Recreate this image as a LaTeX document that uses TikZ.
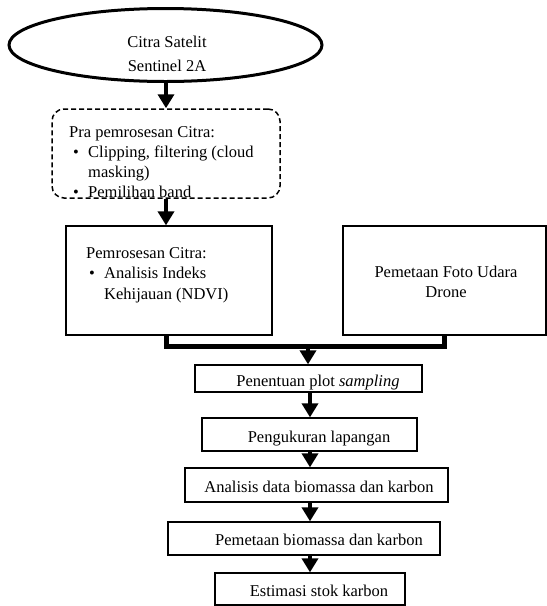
\documentclass[tikz,border=0pt]{standalone}
\usepackage{fontspec}
\setmainfont{Liberation Serif}
\usetikzlibrary{shapes.geometric,arrows.meta}
\begin{document}
\begin{tikzpicture}[x=1pt,y=-1pt,
  txt/.style={font=\fontsize{16.5}{20.5}\selectfont, inner sep=0pt},
  box/.style={draw, line width=1.3pt, inner sep=0pt},
  flow/.style={line width=4.5pt, -{Triangle[width=16pt,length=14pt]}},
  joint/.style={line width=5pt}]
\useasboundingbox[fill=white] (0,0) rectangle (547,606);
% top ellipse
\node[draw, ellipse, line width=3pt, minimum width=313pt, minimum height=73pt,
      inner sep=0pt] (sat) at (165.5,45) {};
\node[txt, font=\fontsize{16.5}{24}\selectfont, anchor=base, align=center] (sattxt) at (167,71)
      {Citra Satelit\\Sentinel 2A};
% dashed pre-processing box
\node[draw, dashed, dash pattern=on 5pt off 3pt, rounded corners=12pt, line width=1.5pt,
      minimum width=228pt, minimum height=89pt, inner sep=0pt] (pra) at (166,153.5) {};
\node[txt, font=\fontsize{16.5}{20}\selectfont, anchor=base west, align=left] (pratxt) at (69,197)
  {Pra pemrosesan Citra:\\
   \hspace*{4pt}\makebox[15pt][l]{•}Clipping, filtering (cloud\\
   \hspace*{19pt}masking)\\
   \hspace*{4pt}\makebox[15pt][l]{•}Pemilihan band};
% processing boxes
\node[box, minimum width=206pt, minimum height=109pt] (proc) at (169,280.5) {};
\node[txt, anchor=base west, align=left] (proctxt) at (86,299)
  {Pemrosesan Citra:\\
   \hspace*{3pt}\makebox[15pt][l]{•}Analisis Indeks\\
   \hspace*{18pt}Kehijauan (NDVI)};
\node[box, minimum width=203pt, minimum height=109pt] (drone) at (444.5,280.5) {};
\node[txt, font=\fontsize{16.5}{20}\selectfont, anchor=base, align=center] (dronetxt) at (446,297)
  {Pemetaan Foto Udara\\Drone};
% bottom chain
\node[box, minimum width=227pt, minimum height=27pt] (pen) at (308.5,378.5) {};
\node[box, minimum width=215pt, minimum height=33pt] (peng) at (309.5,434.5) {};
\node[box, minimum width=263pt, minimum height=34pt] (ana) at (316.5,485) {};
\node[box, minimum width=272pt, minimum height=33pt] (pem) at (304,538.5) {};
\node[box, minimum width=190pt, minimum height=32pt] (est) at (310,589) {};
\node[txt, anchor=base] (pentxt) at (318,386.5) {Penentuan plot \textit{sampling}};
\node[txt, anchor=base] (pengtxt) at (319,442) {Pengukuran lapangan};
\node[txt, anchor=base] (anatxt) at (319,492.5) {Analisis data biomassa dan karbon};
\node[txt, anchor=base] (pemtxt) at (319,545.5) {Pemetaan biomassa dan karbon};
\node[txt, anchor=base] (esttxt) at (319,596.5) {Estimasi stok karbon};
% connectors
\coordinate (ax) at (166,0);
\coordinate (bx) at (310,0);
\draw[flow] (sat.south -| ax) -- (pra.north -| ax);
\draw[flow] (pra.south -| ax) -- (proc.north -| ax);
\coordinate (jl) at (166,346.5);
\coordinate (m) at (308,346.5);
\draw[joint] (proc.south -| jl) -- (jl) -| (drone.south);
\draw[flow] (m) -- (m |- pen.north);
\draw[flow] (pen.south -| bx) -- (peng.north -| bx);
\draw[flow] (peng.south -| bx) -- (ana.north -| bx);
\draw[flow] (ana.south -| bx) -- (pem.north -| bx);
\draw[flow] (pem.south -| bx) -- (est.north -| bx);
\end{tikzpicture}
\end{document}
